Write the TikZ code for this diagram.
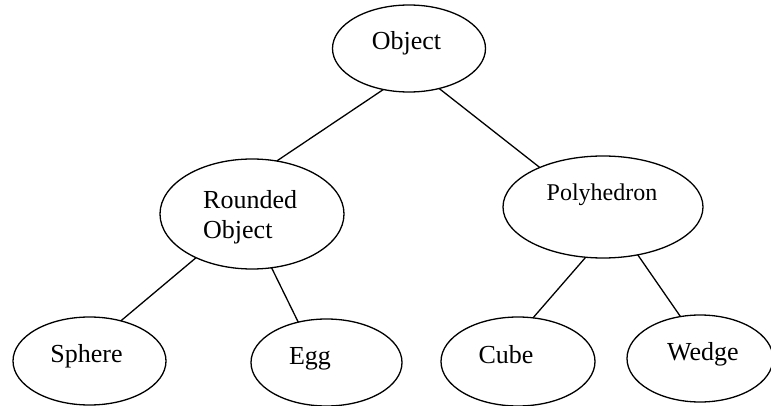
\documentclass[tikz,border=0pt]{standalone}
\usepackage{fontspec}
\setmainfont{Liberation Serif}
\usetikzlibrary{shapes.geometric}
\begin{document}
\begin{tikzpicture}[x=1pt,y=-1pt,
  oval/.style={ellipse, draw, line width=1.3pt, inner sep=0pt, outer sep=0pt},
  link/.style={line width=1.3pt},
  lbl/.style={anchor=base, inner sep=0pt, font=\fontsize{26}{30}\selectfont},
  lblw/.style={lbl, anchor=base west}]
\clip (0,0) rectangle (771,406);

% class hierarchy ovals
\node[oval, minimum width=153pt, minimum height=87pt]  (obj)   at (409,48.5)  {};
\node[oval, minimum width=184pt, minimum height=110pt] (rnd)   at (252,214)   {};
\node[oval, minimum width=200pt, minimum height=102pt] (poly)  at (603,207)   {};
\node[oval, minimum width=153pt, minimum height=88pt]  (sph)   at (89.5,361)  {};
\node[oval, minimum width=151pt, minimum height=87pt]  (egg)   at (326.5,362.5) {};
\node[oval, minimum width=154pt, minimum height=89pt]  (cube)  at (518,361.5) {};
\node[oval, minimum width=146pt, minimum height=87pt]  (wedge) at (700,358.5) {};

% labels
\node[lbl] (tobj) at (406.5,50) {Object};
\node[lblw] (trnd1) at (203,209) {Rounded};
\node[lblw] (trnd2) at (203,238) {Object};
\node[lbl, font=\fontsize{24}{28}\selectfont] (tpoly) at (602,201) {Polyhedron};
\node[lbl] (tsph) at (86.5,362) {Sphere};
\node[lbl] (tegg) at (310,364) {Egg};
\node[lbl] (tcube) at (506,363) {Cube};
\node[lbl] (twedge) at (703,360) {Wedge};

% hierarchy links
\draw[link] (obj.238.5) -- (rnd.65.6);
\draw[link] (obj.307.2) -- (poly.148);
\draw[link] (rnd.218.7) -- (sph.52.3);
\draw[link] (rnd.290.7) -- (egg.125.1);
\draw[link] (poly.251.9) -- (cube.71);
\draw[link] (poly.306.5) -- (wedge.115.2);
\end{tikzpicture}
\end{document}
